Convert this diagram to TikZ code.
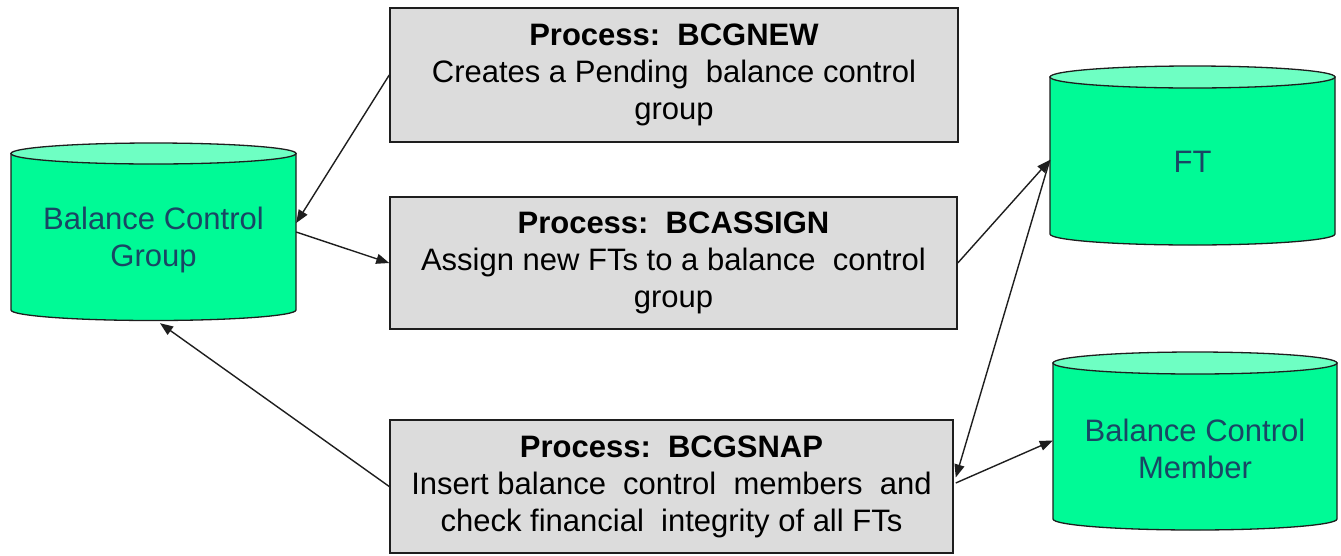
\documentclass[tikz,border=0pt]{standalone}
\usepackage{fontspec}
\setmainfont{Liberation Sans}
\usetikzlibrary{arrows.meta}
\definecolor{cylbody}{RGB}{0,250,150}
\definecolor{cyltop}{RGB}{110,255,195}
\definecolor{cyltext}{RGB}{25,70,100}
\definecolor{boxfill}{RGB}{220,220,220}
\definecolor{edge}{RGB}{30,30,30}
\tikzset{
  procbox/.style={draw=edge, line width=1.5pt, fill=boxfill, inner sep=0pt, align=center,
    font=\fontsize{31}{37}\selectfont},
  cyllabel/.style={inner sep=0pt, align=center, text=cyltext, font=\fontsize{31}{37}\selectfont},
  cylshape/.style={draw=edge, line width=1.3pt},
  conn/.style={draw=edge, line width=1.4pt, -{Triangle[length=13pt,width=10pt]}},
}
\newcommand\drum[5]{% cx rx yc yb ry
  \path[cylshape, fill=cylbody] ({#1-#2},#3) -- ({#1-#2},#4)
    arc[start angle=180,end angle=360,x radius=#2pt,y radius=#5pt] -- ({#1+#2},#3) -- cycle;
  \path[cylshape, fill=cyltop] (#1,#3) ellipse[x radius=#2pt, y radius=#5pt];
}
\begin{document}
\begin{tikzpicture}[x=1pt,y=-1pt]
\useasboundingbox[fill=white] (0,0) rectangle (1341,555);
% cylinders
\drum{153.5}{142.5}{153.5}{310}{10.5}
\drum{1192.5}{142.5}{77}{234}{11}
\drum{1195}{142}{363}{519}{11}
\node[cyllabel, minimum width=285pt, minimum height=166pt] (bcg) at (153.5,240) {Balance Control\\Group};
\node[cyllabel, minimum width=285pt, minimum height=150pt] (ft) at (1192.5,162) {FT};
\node[cyllabel, minimum width=284pt, minimum height=150pt] (bcm) at (1195,448.5) {Balance Control\\Member};
% process boxes
\node[procbox, minimum width=568pt, minimum height=134pt] (b1) at (674,75)
  {\textbf{Process:\ \ BCGNEW}\\Creates a Pending\ \ balance control\\group};
\node[procbox, minimum width=567pt, minimum height=132pt] (b2) at (673.5,263)
  {\textbf{Process:\ \ BCASSIGN}\\Assign new FTs to a balance\ \ control\\group};
\node[procbox, minimum width=563pt, minimum height=133pt] (b3) at (671.5,486.5)
  {\textbf{Process:\ \ BCGSNAP}\\Insert balance\ \ control\ \ members\ \ and\\check financial\ \ integrity of all FTs};
% connectors
\draw[conn] (b1.west) -- ([yshift=17pt]bcg.east);
\draw[conn] ([yshift=8pt]bcg.east) -- (b2.west);
\draw[conn] (b3.west) -- ([xshift=6.5pt]bcg.south);
\draw[conn] (b2.east) -- ([yshift=2pt]ft.west);
\draw[conn] ([yshift=2pt]ft.west) -- ([yshift=9pt,xshift=2pt]b3.east);
\draw[conn] ([yshift=3.5pt,xshift=2pt]b3.east) -- ([yshift=8pt]bcm.west);
\end{tikzpicture}
\end{document}
